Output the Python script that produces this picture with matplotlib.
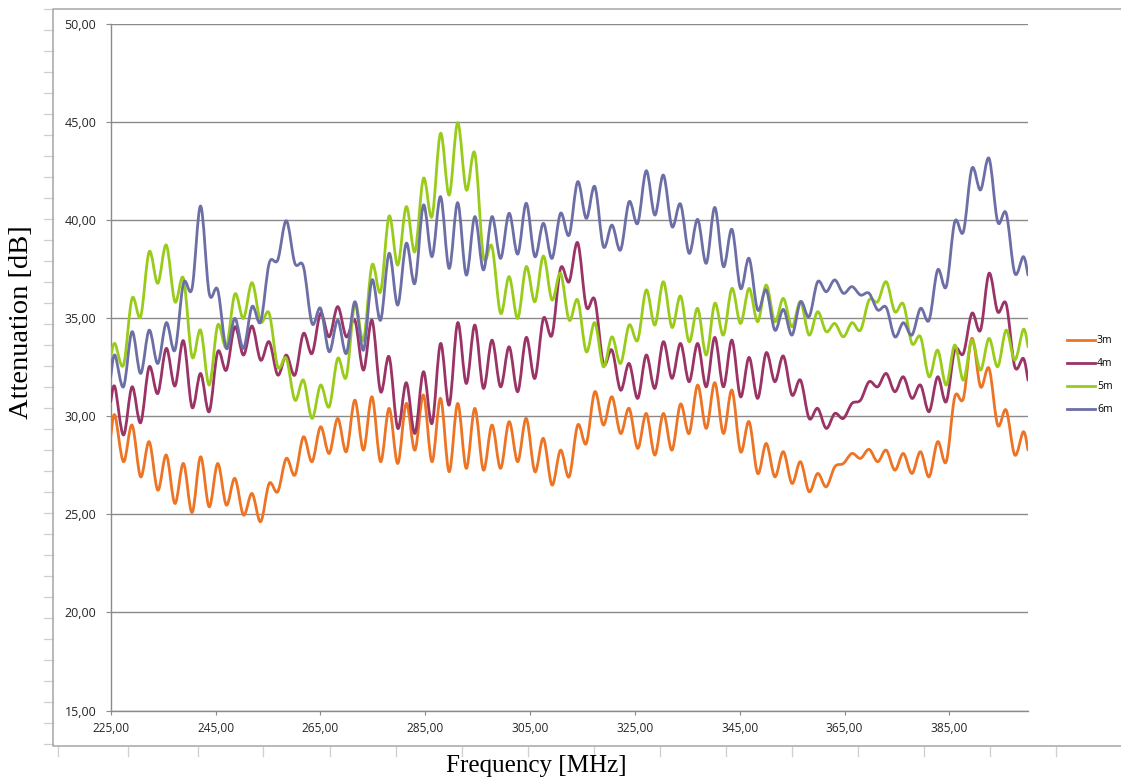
import numpy as np
import matplotlib
matplotlib.use("Agg")
import matplotlib.pyplot as plt
from matplotlib.path import Path
from matplotlib.patches import PathPatch
from matplotlib.lines import Line2D
from matplotlib.ticker import FuncFormatter

# sweep frequencies [MHz] (ripple extrema)
freq = [225.00, 225.80, 227.44, 229.07, 230.71, 232.34, 233.98, 235.61, 237.25, 238.88,
        240.52, 242.15, 243.79, 245.42, 247.06, 248.69, 250.33, 251.96, 253.60, 255.23,
        256.87, 258.50, 260.14, 261.77, 263.41, 265.04, 266.68, 268.31, 269.95, 271.58,
        273.22, 274.85, 276.49, 278.12, 279.76, 281.39, 283.03, 284.66, 286.30, 287.93,
        289.57, 291.20, 292.84, 294.47, 296.11, 297.74, 299.38, 301.01, 302.65, 304.28,
        305.92, 307.55, 309.19, 310.82, 312.46, 314.09, 315.73, 317.36, 319.00, 320.63,
        322.27, 323.90, 325.54, 327.17, 328.81, 330.44, 332.08, 333.71, 335.35, 336.98,
        338.62, 340.25, 341.89, 343.52, 345.16, 346.79, 348.43, 350.06, 351.70, 353.33,
        354.97, 356.60, 358.24, 359.87, 361.51, 363.14, 364.78, 366.41, 368.05, 369.68,
        371.32, 372.95, 374.59, 376.22, 377.86, 379.49, 381.13, 382.76, 384.40, 386.03,
        387.67, 389.30, 390.94, 392.57, 394.21, 395.84, 397.48, 399.11, 400.00]

att_3m = [28.96, 30.07, 27.69, 29.56, 26.92, 28.71, 26.24, 28.03, 25.56, 27.60,
          25.10, 27.94, 25.39, 27.60, 25.48, 26.84, 24.97, 26.07, 24.63, 26.58,
          26.16, 27.86, 27.01, 28.96, 27.69, 29.47, 28.11, 29.90, 28.20, 30.83,
          28.28, 31.00, 27.69, 30.41, 27.60, 30.66, 28.28, 31.09, 27.69, 30.92,
          27.18, 30.66, 27.35, 30.41, 27.26, 29.56, 27.35, 29.73, 27.69, 29.90,
          27.18, 28.88, 26.50, 28.28, 26.92, 29.56, 28.62, 31.26, 29.56, 31.00,
          29.13, 30.41, 28.37, 30.15, 28.03, 30.15, 28.28, 30.63, 29.13, 31.60,
          29.39, 31.72, 29.13, 31.34, 28.20, 29.73, 27.09, 28.62, 26.92, 28.20,
          26.58, 27.69, 26.16, 27.09, 26.41, 27.43, 27.60, 28.11, 27.86, 28.32,
          27.69, 28.28, 27.26, 28.11, 27.09, 28.20, 26.92, 28.71, 27.69, 31.00,
          30.92, 33.98, 31.51, 32.45, 29.56, 30.32, 28.03, 29.22, 28.28]

att_4m = [30.75, 31.51, 29.05, 31.51, 29.68, 32.53, 31.17, 33.47, 31.55, 33.86,
          30.46, 32.19, 30.24, 33.30, 32.36, 34.57, 33.13, 34.61, 32.87, 33.81,
          32.11, 33.13, 32.11, 34.23, 33.21, 35.26, 34.06, 35.60, 34.06, 34.91,
          32.36, 34.91, 31.26, 33.04, 29.39, 31.72, 29.13, 32.28, 29.64, 33.72,
          30.58, 34.78, 31.68, 34.66, 31.43, 33.89, 31.51, 33.55, 31.26, 34.03,
          31.94, 35.00, 34.15, 37.55, 36.87, 38.86, 35.60, 35.94, 32.70, 33.38,
          31.34, 32.70, 30.92, 33.13, 31.43, 33.81, 31.94, 33.72, 31.77, 33.72,
          31.51, 34.03, 31.51, 33.89, 31.00, 33.01, 30.92, 33.25, 31.77, 33.08,
          31.09, 31.85, 29.90, 30.41, 29.39, 30.15, 29.90, 30.66, 30.83, 31.77,
          31.51, 32.19, 31.26, 32.02, 30.92, 31.60, 30.24, 32.02, 30.75, 33.38,
          33.21, 35.26, 34.40, 37.30, 35.34, 35.73, 32.53, 32.96, 31.85]

att_5m = [33.04, 33.72, 32.62, 36.02, 35.09, 38.40, 36.79, 38.74, 35.85, 37.04,
          33.04, 34.40, 31.60, 34.66, 33.55, 36.24, 35.00, 36.82, 34.83, 35.26,
          32.53, 32.96, 30.83, 31.85, 29.90, 31.60, 30.49, 32.96, 32.02, 35.77,
          33.89, 37.72, 36.36, 40.22, 37.72, 40.70, 38.40, 42.14, 40.19, 44.44,
          41.29, 44.98, 41.55, 43.42, 38.15, 38.66, 35.26, 37.13, 35.00, 37.64,
          35.85, 38.18, 35.94, 37.30, 34.91, 35.94, 33.30, 34.78, 32.53, 34.06,
          32.70, 34.66, 33.89, 36.45, 34.66, 36.87, 34.54, 36.14, 33.81, 35.51,
          33.13, 35.77, 34.15, 36.53, 34.74, 36.53, 34.83, 36.70, 34.83, 36.02,
          34.57, 35.85, 34.15, 35.34, 34.32, 34.74, 34.06, 34.78, 34.40, 35.94,
          35.85, 36.87, 35.34, 35.73, 33.72, 34.06, 32.02, 33.38, 31.60, 33.64,
          31.85, 33.89, 32.36, 33.98, 32.53, 34.40, 32.87, 34.44, 33.55]

att_6m = [32.02, 33.13, 31.51, 34.32, 32.19, 34.40, 32.70, 34.78, 33.38, 36.79,
          36.53, 40.73, 36.28, 36.45, 33.47, 35.00, 33.47, 35.60, 34.83, 37.81,
          37.98, 39.98, 37.81, 37.64, 34.74, 35.51, 33.30, 34.91, 33.21, 35.85,
          33.38, 36.96, 34.91, 38.32, 35.68, 38.83, 36.79, 40.78, 38.15, 41.21,
          37.55, 40.90, 37.21, 40.19, 37.47, 40.19, 38.06, 40.36, 38.28, 40.87,
          38.15, 39.85, 38.06, 40.36, 39.25, 41.97, 40.10, 41.72, 38.66, 39.76,
          38.49, 40.95, 39.85, 42.53, 40.27, 42.31, 39.68, 40.83, 38.32, 40.05,
          37.81, 40.66, 37.64, 39.54, 36.53, 38.06, 35.43, 36.45, 34.40, 35.46,
          34.15, 35.85, 35.09, 36.87, 36.36, 36.96, 36.28, 36.62, 36.19, 36.28,
          35.43, 35.56, 34.06, 34.78, 34.15, 35.51, 34.91, 37.47, 36.62, 39.93,
          39.42, 42.65, 41.55, 43.16, 39.93, 40.36, 37.30, 38.15, 37.21]

labels = ["3m", "4m", "5m", "6m"]
colors = ["#EC7424", "#9A3366", "#99CC1A", "#6C6EA6"]
x_ticks = [225, 245, 265, 285, 305, 325, 345, 365, 385]
y_ticks = [15, 20, 25, 30, 35, 40, 45, 50]

W, H = 1121, 781


def fx(px):
    return px / W


def fy(py):
    return 1 - py / H


def smooth_path(x, y):
    # Excel style smoothed line: cubic bezier through every point
    pts = np.column_stack([x, y])
    ext = np.vstack([pts[0], pts, pts[-1]])
    verts = [pts[0]]
    for i in range(len(pts) - 1):
        p0, p1, p2, p3 = ext[i], ext[i + 1], ext[i + 2], ext[i + 3]
        verts += [p1 + (p2 - p0) / 6, p2 - (p3 - p1) / 6, p2]
    codes = [Path.MOVETO] + [Path.CURVE4] * (3 * (len(pts) - 1))
    return Path(verts, codes)


fig = plt.figure(figsize=(W / 100, H / 100), dpi=100)
fig.patch.set_facecolor("white")

# sheet cell marks and chart frame (right side runs off the screenshot)
for py in np.arange(9.3, 760, 21):
    fig.add_artist(Line2D([fx(44), fx(53)], [fy(py), fy(py)], color="#cfcfcf", lw=0.9))
for px in [58, 128, 198, 263, 330, 396, 462, 528, 594, 660, 726, 792, 858, 924, 990, 1056]:
    fig.add_artist(Line2D([fx(px), fx(px)], [fy(746.5), fy(756)], color="#cfcfcf", lw=0.9))
frame_x = [fx(1121), fx(53.3), fx(53.3), fx(1121)]
frame_y = [fy(9.3), fy(9.3), fy(745.7), fy(745.7)]
fig.add_artist(Line2D(frame_x, frame_y, color="#a6a6a6", lw=1.1))

ax = fig.add_axes([fx(110.7), fy(710.5), fx(1028) - fx(110.7), fy(24.3) - fy(710.5)])

series = [att_3m, att_4m, att_5m, att_6m]
handles = []
for vals, lab, c in zip(series, labels, colors):
    patch = PathPatch(smooth_path(freq, vals), facecolor="none", edgecolor=c, lw=2.0,
                      capstyle="round", joinstyle="round", zorder=3)
    ax.add_patch(patch)
    handles.append(Line2D([], [], color=c, lw=2.0, label=lab))

ax.set_xlim(225, 400)
ax.set_ylim(15, 50)
ax.set_xticks(x_ticks)
ax.set_yticks(y_ticks)
fmt = FuncFormatter(lambda v, p: f"{v:.2f}".replace(".", ","))
ax.xaxis.set_major_formatter(fmt)
ax.yaxis.set_major_formatter(fmt)
ax.grid(axis="y", color="#8a8a8a", lw=1.0)
ax.set_axisbelow(True)
for s in ["top", "right"]:
    ax.spines[s].set_visible(False)
for s in ["left", "bottom"]:
    ax.spines[s].set_color("#8a8a8a")
    ax.spines[s].set_linewidth(1.0)
ax.tick_params(axis="y", direction="out", length=3.4, width=0.8, color="#8a8a8a",
               pad=7, labelsize=9, labelcolor="#262626")
ax.tick_params(axis="x", direction="out", length=2.6, width=0.8, color="#8a8a8a",
               pad=5.5, labelsize=8.6, labelcolor="#262626")
for t in ax.get_xticklabels() + ax.get_yticklabels():
    t.set_fontfamily("Open Sans")

fig.text(fx(22), fy(322), "Attenuation [dB]", rotation=90, ha="center", va="center",
         fontsize=20.5, family="Liberation Serif", color="black")
fig.text(fx(536), fy(766), "Frequency [MHz]", ha="center", va="center",
         fontsize=18, family="Liberation Serif", color="black")

fig.legend(handles=handles, loc="center left", bbox_to_anchor=(fx(1066.7), fy(375.3)),
           frameon=False, prop={"family": "Open Sans", "size": 7.5},
           handlelength=2.7, handletextpad=0.2, labelspacing=1.15,
           borderpad=0, borderaxespad=0)

fig.savefig("out.png", dpi=100)
